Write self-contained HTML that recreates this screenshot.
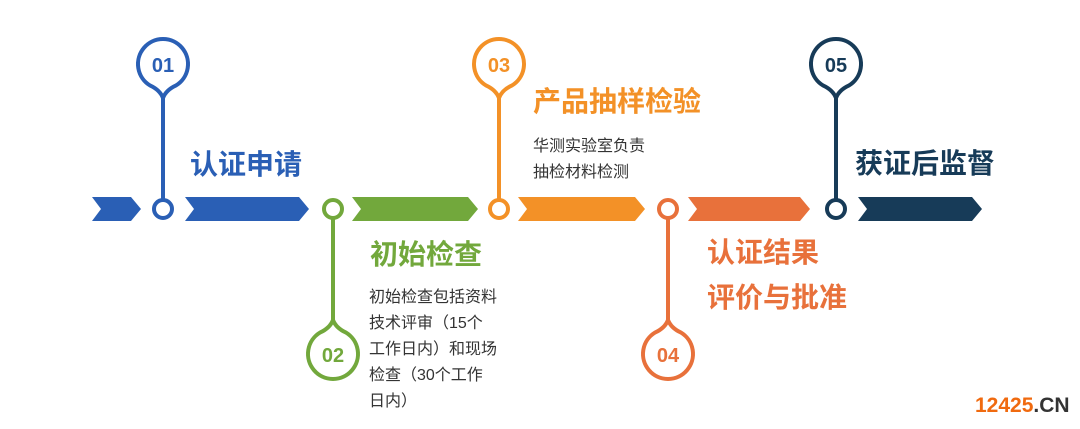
<!DOCTYPE html>
<html><head><meta charset="utf-8"><style>
html,body{margin:0;padding:0;background:#fff;}
body{width:1080px;height:429px;overflow:hidden;position:relative;}
svg{position:absolute;left:0;top:0;}
.t{font-family:"Liberation Sans","Noto Sans CJK SC",sans-serif;font-weight:bold;}
.n{font-family:"Liberation Sans","Noto Sans CJK SC",sans-serif;}
</style></head><body>
<svg width="1080" height="429" viewBox="0 0 1080 429">
<g stroke-linejoin="round">
<polygon points="92,197 131,197 141,209 131,221 92,221 101,209" fill="#2a5fb5"/>
<polygon points="185,197 299,197 309,209 299,221 185,221 194,209" fill="#2a5fb5"/>
<polygon points="352,197 468,197 478,209 468,221 352,221 361,209" fill="#72a83c"/>
<polygon points="518,197 635,197 645,209 635,221 518,221 527,209" fill="#f39127"/>
<polygon points="688,197 800,197 810,209 800,221 688,221 697,209" fill="#e8713b"/>
<polygon points="858,197 972,197 982,209 972,221 858,221 867,209" fill="#173b58"/>
<g stroke="#2a5fb5" stroke-width="4" fill="none">
<line x1="163" y1="98" x2="163" y2="200"/>
<path d="M150,85.4 A25,25 0 1 1 176,85.4 Q166,90 163,98 Q160,90 150,85.4 Z"/>
<circle cx="163" cy="209" r="9" fill="#fff"/>
</g>
<g stroke="#72a83c" stroke-width="4" fill="none">
<line x1="333" y1="218" x2="333" y2="320"/>
<path d="M320,332.6 A25,25 0 1 0 346,332.6 Q336,328 333,320 Q330,328 320,332.6 Z"/>
<circle cx="333" cy="209" r="9" fill="#fff"/>
</g>
<g stroke="#f39127" stroke-width="4" fill="none">
<line x1="499" y1="98" x2="499" y2="200"/>
<path d="M486,85.4 A25,25 0 1 1 512,85.4 Q502,90 499,98 Q496,90 486,85.4 Z"/>
<circle cx="499" cy="209" r="9" fill="#fff"/>
</g>
<g stroke="#e8713b" stroke-width="4" fill="none">
<line x1="668" y1="218" x2="668" y2="320"/>
<path d="M655,332.6 A25,25 0 1 0 681,332.6 Q671,328 668,320 Q665,328 655,332.6 Z"/>
<circle cx="668" cy="209" r="9" fill="#fff"/>
</g>
<g stroke="#173b58" stroke-width="4" fill="none">
<line x1="836" y1="98" x2="836" y2="200"/>
<path d="M823,85.4 A25,25 0 1 1 849,85.4 Q839,90 836,98 Q833,90 823,85.4 Z"/>
<circle cx="836" cy="209" r="9" fill="#fff"/>
</g>
</g>
<g class="t" font-size="20" text-anchor="middle">
<text x="163" y="72" fill="#2a5fb5">01</text>
<text x="333" y="362" fill="#72a83c">02</text>
<text x="499" y="72" fill="#f39127">03</text>
<text x="668" y="362" fill="#e8713b">04</text>
<text x="836" y="72" fill="#173b58">05</text>
</g>
<g class="t" font-size="28">
<text x="190" y="174" fill="#2a5fb5">认证申请</text>
<text x="370" y="264" fill="#72a83c">初始检查</text>
<text x="533" y="111" fill="#f39127">产品抽样检验</text>
<text x="707" y="262" fill="#e8713b">认证结果</text>
<text x="707" y="307" fill="#e8713b">评价与批准</text>
<text x="855" y="173" fill="#173b58">获证后监督</text>
</g>
<g class="n" font-size="16" fill="#333">
<text x="533" y="151">华测实验室负责</text>
<text x="533" y="177">抽检材料检测</text>
<text x="369" y="302">初始检查包括资料</text>
<text x="369" y="328">技术评审（15个</text>
<text x="369" y="354">工作日内）和现场</text>
<text x="369" y="380">检查（30个工作</text>
<text x="369" y="406">日内）</text>
</g>
<text class="t" x="975" y="412" font-size="21"><tspan fill="#f06a0f">12425</tspan><tspan fill="#333">.CN</tspan></text>
</svg>
</body></html>
